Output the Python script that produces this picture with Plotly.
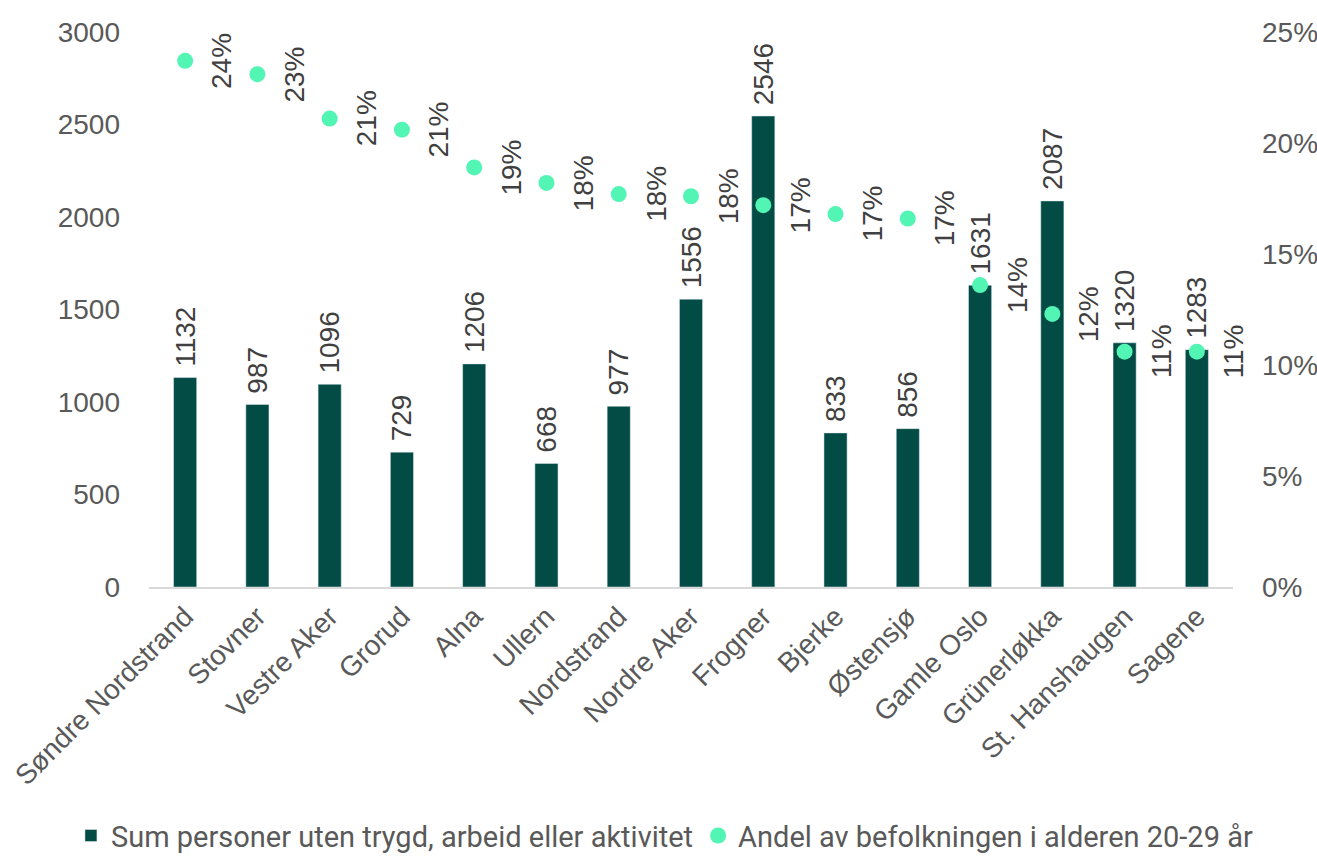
import plotly.graph_objects as go

bydeler = ["Søndre Nordstrand", "Stovner", "Vestre Aker", "Grorud", "Alna", "Ullern",
           "Nordstrand", "Nordre Aker", "Frogner", "Bjerke", "Østensjø", "Gamle Oslo",
           "Grünerløkka", "St. Hanshaugen", "Sagene"]
personer = [1132, 987, 1096, 729, 1206, 668, 977, 1556, 2546, 833, 856, 1631, 2087, 1320, 1283]
andel = [0.237, 0.231, 0.211, 0.206, 0.189, 0.182, 0.177, 0.176, 0.172, 0.168, 0.166, 0.136, 0.123, 0.106, 0.106]

bar_color = "#034C45"
dot_color = "#52F5B4"
txt = "#404040"
tick = "#595959"
font = "Liberation Sans"

fig = go.Figure()
fig.add_trace(go.Bar(
    x=bydeler, y=personer, name="Sum personer uten trygd, arbeid eller aktivitet",
    marker=dict(color=bar_color), width=0.32,
    text=["\u00a0" + str(v) for v in personer], textposition="outside", textangle=-90,
    textfont=dict(family=font, size=28, color=txt), constraintext="none", cliponaxis=False,
))
fig.add_trace(go.Scatter(
    x=bydeler, y=andel, yaxis="y2", mode="markers",
    name="Andel av befolkningen i alderen 20-29 år",
    marker=dict(color=dot_color, size=16), cliponaxis=False,
))

# percentage labels, rotated, to the right of each point
for b, a in zip(bydeler, andel):
    fig.add_annotation(x=b, y=a, xref="x", yref="y2", text=f"{round(a * 100):.0f}%",
                       showarrow=False, textangle=-90, xshift=37,
                       font=dict(family=font, size=28, color=txt))

fig.update_layout(
    width=1317, height=857,
    margin=dict(l=149, r=84, t=32, b=270, autoexpand=False),
    plot_bgcolor="white", paper_bgcolor="white",
    font=dict(family=font, size=28, color=tick),
    showlegend=True,
    legend=dict(orientation="h", x=-0.072, xanchor="left", y=-0.448, yanchor="middle",
                font=dict(family="Roboto", size=29, color=tick),
                traceorder="normal"),
    xaxis=dict(range=[-0.5, 14.5], tickangle=-45, showline=True, linecolor="#D9D9D9", linewidth=2,
               showgrid=False, ticks="", automargin=False, tickfont=dict(size=28, color=tick)),
    yaxis=dict(range=[0, 3000], dtick=500, showgrid=False, zeroline=False, automargin=False,
               tickfont=dict(size=28, color=tick), ticklabelstandoff=28),
    yaxis2=dict(range=[0, 0.25], dtick=0.05, tickformat=".0%", overlaying="y", side="right",
                showgrid=False, zeroline=False, automargin=False,
                tickfont=dict(size=28, color=tick), ticklabelstandoff=28),
)

fig.write_html("out.html", config={"displayModeBar": False},
               post_script="document.body.style.margin='0px';")
